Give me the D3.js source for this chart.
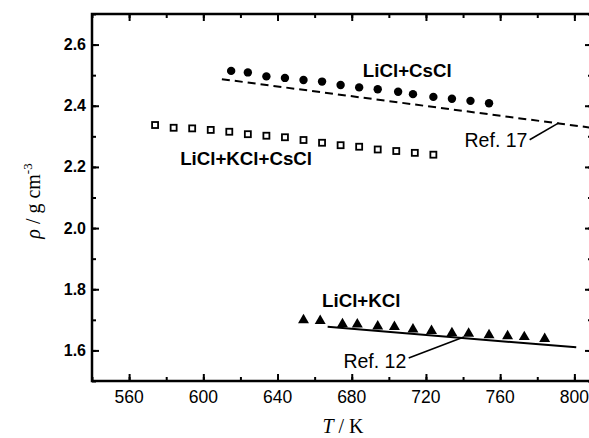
<!DOCTYPE html>
<html>
<head>
<meta charset="utf-8">
<script src="https://cdn.jsdelivr.net/npm/d3@7"></script>
<style>
  body { margin: 0; background: #fff; }
  text { font-family: "Liberation Sans", Arial, sans-serif; fill: #000; }
</style>
</head>
<body>
<div id="chart"></div>
<script>
// LiCl+CsCl (filled circles)
var csT   = [615, 624, 634, 644, 654, 664, 674, 684, 694, 705, 713, 724, 734, 744, 754];
var csRho = [2.514, 2.509, 2.496, 2.491, 2.484, 2.479, 2.468, 2.460, 2.454, 2.446, 2.438, 2.429, 2.423, 2.416, 2.408];

// LiCl+KCl+CsCl (open squares)
var kcsT   = [574, 584, 594, 604, 614, 624, 634, 644, 654, 664, 674, 684, 694, 704, 714, 724];
var kcsRho = [2.337, 2.328, 2.326, 2.321, 2.315, 2.307, 2.302, 2.297, 2.288, 2.279, 2.271, 2.266, 2.257, 2.252, 2.246, 2.240];

// LiCl+KCl (filled triangles)
var kT   = [654, 663, 675, 683, 694, 703, 713, 723, 734, 743, 754, 764, 773, 784];
var kRho = [1.699, 1.697, 1.686, 1.685, 1.679, 1.677, 1.669, 1.664, 1.657, 1.655, 1.650, 1.647, 1.644, 1.638];

// literature lines
var ref17T = [610, 808], ref17Rho = [2.487, 2.329];
var ref12T = [667, 801], ref12Rho = [1.677, 1.610];

var xTicks = [560, 600, 640, 680, 720, 760, 800];
var yTicks = [1.6, 1.8, 2.0, 2.2, 2.4, 2.6];

var width = 589, height = 438;
var margin = {left: 92, top: 14, right: -3, bottom: 57};

var svg = d3.select("#chart").append("svg")
    .attr("width", width)
    .attr("height", height);

var x = d3.scaleLinear().domain([540, 809.5]).range([margin.left, width - margin.right]);
var y = d3.scaleLinear().domain([1.5, 2.7]).range([height - margin.bottom, margin.top]);

function zip(a, b) { return a.map(function(d, i) { return [d, b[i]]; }); }

// axes: ticks point inward on all four sides
var xMinor = d3.range(540, 820, 20);
var yMinor = d3.range(15, 28).map(function(d) { return d / 10; });

function axisSet(axis, scale, major, minor) {
    var g = svg.append("g");
    g.append("g").call(axis(scale).tickValues(minor).tickSize(-4).tickFormat(""));
    g.append("g").call(axis(scale).tickValues(major).tickSize(-7).tickFormat(""));
    g.selectAll("path").remove();
    g.selectAll("line").attr("stroke", "#000").attr("stroke-width", 2);
    return g;
}
axisSet(d3.axisBottom, x, xTicks, xMinor).attr("transform", "translate(0," + y(1.5) + ")");
axisSet(d3.axisTop, x, xTicks, xMinor).attr("transform", "translate(0," + y(2.7) + ")");
axisSet(d3.axisLeft, y, yTicks, yMinor).attr("transform", "translate(" + x(540) + ",0)");
axisSet(d3.axisRight, y, yTicks, yMinor).attr("transform", "translate(" + x(809.5) + ",0)");

svg.append("rect")
    .attr("x", x(540)).attr("y", y(2.7))
    .attr("width", x(809.5) - x(540)).attr("height", y(1.5) - y(2.7))
    .attr("fill", "none").attr("stroke", "#000").attr("stroke-width", 2.5);

// tick labels
svg.append("g").selectAll("text").data(xTicks).enter().append("text")
    .attr("x", function(d) { return x(d); })
    .attr("y", y(1.5) + 22)
    .attr("text-anchor", "middle")
    .style("font-size", "17.5px")
    .text(function(d) { return d; });

svg.append("g").selectAll("text").data(yTicks).enter().append("text")
    .attr("x", x(540) - 6)
    .attr("y", function(d) { return y(d) + 5.5; })
    .attr("text-anchor", "end")
    .style("font-size", "16px")
    .style("font-weight", "bold")
    .text(function(d) { return d.toFixed(1); });

// axis titles
var xt = svg.append("text")
    .attr("x", 343).attr("y", 433)
    .attr("text-anchor", "middle")
    .style("font-family", "'Liberation Serif', 'Times New Roman', serif")
    .style("font-size", "20px");
xt.append("tspan").style("font-style", "italic").text("T");
xt.append("tspan").text(" / K");

var yt = svg.append("text")
    .attr("transform", "translate(40,201) rotate(-90)")
    .attr("text-anchor", "middle")
    .style("font-family", "'Liberation Serif', 'Times New Roman', serif")
    .style("font-size", "20px");
yt.append("tspan").style("font-style", "italic").text("ρ");
yt.append("tspan").text(" / g cm");
yt.append("tspan").attr("dy", -8).style("font-size", "13px").text("-3");

// reference lines
var line = d3.line().x(function(d) { return x(d[0]); }).y(function(d) { return y(d[1]); });

svg.append("path").datum(zip(ref17T, ref17Rho))
    .attr("d", line)
    .attr("fill", "none").attr("stroke", "#000").attr("stroke-width", 2)
    .attr("stroke-dasharray", "8,5");

svg.append("path").datum(zip(ref12T, ref12Rho))
    .attr("d", line)
    .attr("fill", "none").attr("stroke", "#000").attr("stroke-width", 2);

// data markers
svg.append("g").selectAll("circle").data(zip(csT, csRho)).enter().append("circle")
    .attr("cx", function(d) { return x(d[0]); })
    .attr("cy", function(d) { return y(d[1]); })
    .attr("r", 4.2)
    .attr("fill", "#000");

svg.append("g").selectAll("rect").data(zip(kcsT, kcsRho)).enter().append("rect")
    .attr("x", function(d) { return x(d[0]) - 3; })
    .attr("y", function(d) { return y(d[1]) - 3; })
    .attr("width", 6).attr("height", 6)
    .attr("fill", "#fff").attr("stroke", "#000").attr("stroke-width", 1.8);

var tri = d3.symbol().type(d3.symbolTriangle).size(52);
svg.append("g").selectAll("path").data(zip(kT, kRho)).enter().append("path")
    .attr("d", tri)
    .attr("transform", function(d) { return "translate(" + x(d[0]) + "," + y(d[1]) + ")"; })
    .attr("fill", "#000");

// labels and pointers
var labels = [
    {t: "LiCl+CsCl", T: 686, r: 2.493, bold: true},
    {t: "LiCl+KCl+CsCl", T: 587.5, r: 2.206, bold: true},
    {t: "LiCl+KCl", T: 664, r: 1.743, bold: true},
    {t: "Ref. 17", T: 740.8, r: 2.266, bold: false},
    {t: "Ref. 12", T: 675.5, r: 1.542, bold: false}
];
svg.append("g").selectAll("text").data(labels).enter().append("text")
    .attr("x", function(d) { return x(d.T); })
    .attr("y", function(d) { return y(d.r); })
    .style("font-size", function(d) { return d.bold ? "18.7px" : "19.5px"; })
    .style("font-weight", function(d) { return d.bold ? "bold" : "normal"; })
    .text(function(d) { return d.t; });

var pointers = [
    [[775.9, 2.289], [791.6, 2.344]],
    [[710.7, 1.575], [740.4, 1.644]]
];
svg.append("g").selectAll("path").data(pointers).enter().append("path")
    .attr("d", line)
    .attr("fill", "none").attr("stroke", "#000").attr("stroke-width", 1.6);
</script>
</body>
</html>
